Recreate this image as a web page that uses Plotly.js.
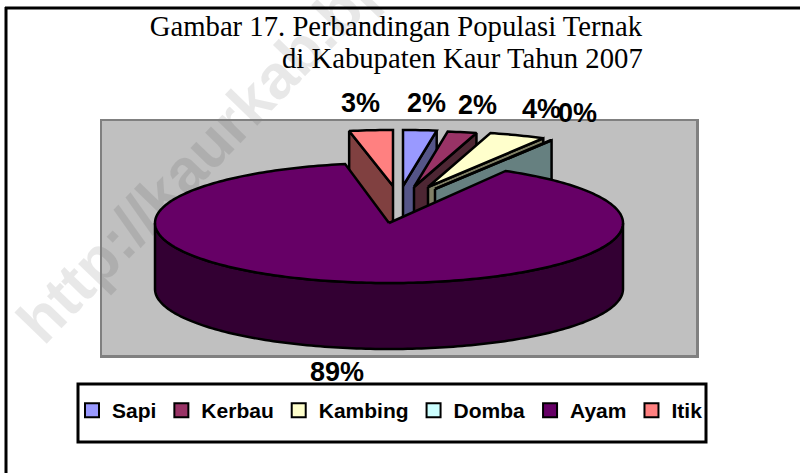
<!DOCTYPE html>
<html>
<head>
<meta charset="utf-8">
<script src="https://cdn.plot.ly/plotly-3.0.1.min.js"></script>
<style>html,body{margin:0;padding:0;background:#fff;overflow:hidden}</style>
</head>
<body>
<div id="chart" style="width:800px;height:473px"></div>
<script>
// --- data ---
const categories = ['Sapi', 'Kerbau', 'Kambing', 'Domba', 'Ayam', 'Itik'];
const shares = [2.3, 2.0, 3.9, 0.1, 88.7, 3.0];
const topColors = ['#9999FF', '#993366', '#FFFFCC', '#CCFFFF', '#660066', '#FF8080'];
const sideColors = ['#555588', '#4D2633', '#808066', '#668080', '#330033', '#804040'];

// --- pie drawing style (pixels of the page) ---
const W = 800, H = 473;
const plot = {l: 102, r: 696, t: 121, b: 355};
const centre = {x: 389, y: 223};
const R = 234, mainB = 60, explodedB = 56, depth = 66;
const slideX = [14, 25, 39, 46, 0, 4];
const slideY = [-37, -36, -36, -34, 0, -37];
const labelX = [426, 477, 541, 577, 337, 360];
const labelY = [103, 105, 109, 113, 372, 103];

const ux = px => (px - centre.x) / R;
const uy = py => (centre.y - py) / R;
const px2paperX = px => (px - plot.l) / (plot.r - plot.l);
const px2paperY = py => (plot.b - py) / (plot.b - plot.t);

const total = shares.reduce((a, b) => a + b, 0);
let acc = 0;
const spans = shares.map(v => { const s = acc; acc += v; return [s / total * 2 * Math.PI, acc / total * 2 * Math.PI]; });

function rim(a0, a1, b) {
  const n = Math.max(2, Math.ceil((a1 - a0) / 0.02));
  const out = [];
  for (let i = 0; i <= n; i++) {
    const a = a0 + (a1 - a0) * i / n;
    out.push([R * Math.sin(a), -b * Math.cos(a)]);
  }
  return out;
}
const poly = (pts, ox, oy, fill, name) => ({
  type: 'scatter', mode: 'lines', fill: 'toself', fillcolor: fill, name: name,
  x: pts.map(p => ux(centre.x + ox + p[0])),
  y: pts.map(p => uy(centre.y + oy + p[1])),
  line: {color: '#000', width: 2.5, simplify: false}, showlegend: false, hoverinfo: 'name'
});

const traces = [];
// exploded small slices, back to front
[5, 0, 1, 2, 3].forEach(i => {
  const [a0, a1] = spans[i];
  const ox = slideX[i], oy = slideY[i], b = explodedB;
  const edgeA = i === 5 ? a0 : a1;
  const rimP = [R * Math.sin(edgeA), -b * Math.cos(edgeA)];
  traces.push(poly([[0, 0], rimP, [rimP[0], rimP[1] + depth], [0, depth], [0, 0]], ox, oy, sideColors[i], categories[i]));
  traces.push(poly([[0, 0], ...rim(a0, a1, b), [0, 0]], ox, oy, topColors[i], categories[i]));
});
// main slice: wall of the near half, then the top face
{
  const i = 4, [a0, a1] = spans[i];
  const wallTop = rim(Math.PI / 2, 3 * Math.PI / 2, mainB);
  const wallBot = wallTop.slice().reverse().map(p => [p[0], p[1] + depth]);
  traces.push(poly([...wallTop, ...wallBot, wallTop[0]], 0, 0, sideColors[i], categories[i]));
  traces.push(poly([[0, 0], ...rim(a0, a1, mainB), [0, 0]], 0, 0, topColors[i], categories[i]));
}
// legend entries
categories.forEach((c, i) => traces.push({
  type: 'scatter', mode: 'markers', name: c, x: [null], y: [null], hoverinfo: 'skip',
  marker: {symbol: 'square', size: 14, color: topColors[i], line: {color: '#000', width: 2}}
}));

const percentLabels = shares.map((v, i) => ({
  text: Math.round(v / total * 100) + '%', xref: 'paper', yref: 'paper',
  x: px2paperX(labelX[i]), y: px2paperY(labelY[i]), xanchor: 'center', yanchor: 'middle', showarrow: false,
  font: {family: 'Liberation Sans', size: 27, color: '#000', weight: 'bold'}
}));
const axisStyle = {visible: true, showgrid: false, zeroline: false, showticklabels: false, ticks: '', showline: true, mirror: true, linecolor: '#808080', linewidth: 2.5, fixedrange: true};

const layout = {
  width: W, height: H, showlegend: true,
  margin: {l: plot.l, r: W - plot.r, t: plot.t, b: H - plot.b, pad: 0},
  paper_bgcolor: '#fff', plot_bgcolor: '#C0C0C0',
  xaxis: Object.assign({range: [ux(plot.l), ux(plot.r)]}, axisStyle),
  yaxis: Object.assign({range: [uy(plot.b), uy(plot.t)]}, axisStyle),
  title: {text: 'Gambar 17. Perbandingan Populasi Ternak', xref: 'container', yref: 'container', x: 642 / W, xanchor: 'right', y: 1 - 36 / H, yanchor: 'bottom', pad: {t: 0, b: 0, l: 0, r: 0}, font: {family: 'Liberation Serif', size: 28.7, color: '#000'}},
  legend: {orientation: 'h', x: px2paperX(72), xanchor: 'left', y: px2paperY(390), yanchor: 'top', font: {family: 'Liberation Sans', size: 21, color: '#000', weight: 'bold'}, bgcolor: 'rgba(0,0,0,0)', borderwidth: 0, itemsizing: 'trace', traceorder: 'normal'},
  annotations: [{
    text: 'di Kabupaten Kaur Tahun 2007', xref: 'paper', yref: 'paper', x: px2paperX(645), y: px2paperY(58), xanchor: 'right', yanchor: 'middle', showarrow: false, align: 'right',
    font: {family: 'Liberation Serif', size: 28.7, color: '#000'}
  }].concat(percentLabels),
  shapes: [
    {type: 'line', xref: 'paper', yref: 'paper', x0: px2paperX(6), x1: px2paperX(6), y0: px2paperY(7), y1: px2paperY(473), line: {color: '#000', width: 3}},
    {type: 'line', xref: 'paper', yref: 'paper', x0: px2paperX(5), x1: px2paperX(800), y0: px2paperY(8), y1: px2paperY(8), line: {color: '#000', width: 3}},
    {type: 'rect', xref: 'paper', yref: 'paper', x0: px2paperX(78), x1: px2paperX(706), y0: px2paperY(384), y1: px2paperY(442), line: {color: '#000', width: 3}, fillcolor: 'rgba(0,0,0,0)'},
    {type: 'line', layer: 'below', xref: 'paper', yref: 'paper', x0: px2paperX(20), x1: px2paperX(516), y0: px2paperY(323), y1: px2paperY(-173), line: {color: 'rgba(0,0,0,0)', width: 0},
     label: {text: 'http://kaurkab.bps.go.id', textangle: -46, textposition: 'middle', xanchor: 'center', yanchor: 'middle', font: {family: 'Liberation Sans', size: 62, color: 'rgba(0,0,0,0.09)', weight: 'bold'}}}
  ]
};
Plotly.newPlot('chart', traces, layout, {displayModeBar: false, staticPlot: true});
</script>
</body>
</html>
